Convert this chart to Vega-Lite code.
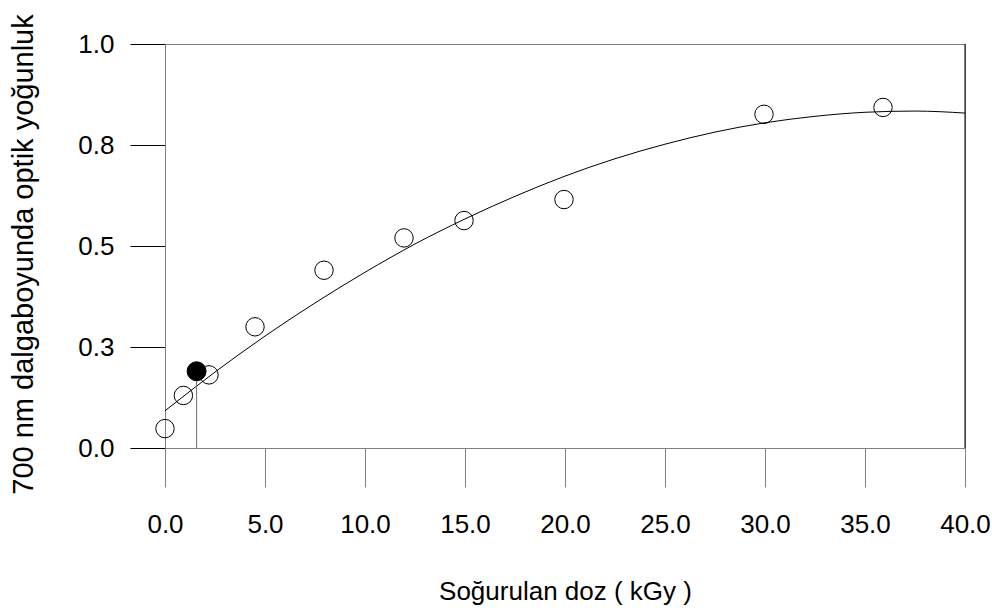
{
  "$schema": "https://vega.github.io/schema/vega-lite/v6.json",
  "width": 800,
  "height": 404,
  "autosize": {"type": "none"},
  "padding": {"left": 165, "top": 44, "right": 27, "bottom": 164},
  "background": "white",
  "config": {
    "view": {"stroke": "#808080", "strokeWidth": 1},
    "font": "Liberation Sans"
  },
  "datasets": {
    "points": [
      {"dose": 0, "od": 0.048, "kind": "open"},
      {"dose": 0.92, "od": 0.13, "kind": "open"},
      {"dose": 2.2, "od": 0.181, "kind": "open"},
      {"dose": 4.5, "od": 0.3, "kind": "open"},
      {"dose": 7.95, "od": 0.44, "kind": "open"},
      {"dose": 11.95, "od": 0.52, "kind": "open"},
      {"dose": 14.95, "od": 0.563, "kind": "open"},
      {"dose": 19.95, "od": 0.615, "kind": "open"},
      {"dose": 29.95, "od": 0.826, "kind": "open"},
      {"dose": 35.9, "od": 0.843, "kind": "open"},
      {"dose": 1.58, "od": 0.19, "kind": "filled"}
    ],
    "curve": [
      {"dose": 0, "od": 0.092},
      {"dose": 2.5, "od": 0.188},
      {"dose": 5, "od": 0.277},
      {"dose": 7.5, "od": 0.359},
      {"dose": 10, "od": 0.435},
      {"dose": 12.5, "od": 0.505},
      {"dose": 15, "od": 0.567},
      {"dose": 17.5, "od": 0.623},
      {"dose": 20, "od": 0.673},
      {"dose": 22.5, "od": 0.716},
      {"dose": 25, "od": 0.752},
      {"dose": 27.5, "od": 0.782},
      {"dose": 30, "od": 0.805},
      {"dose": 32.5, "od": 0.821},
      {"dose": 35, "od": 0.831},
      {"dose": 37.5, "od": 0.834},
      {"dose": 40, "od": 0.829}
    ],
    "marker": [
      {"dose": 1.58, "od0": 0, "od1": 0.19}
    ],
    "frame": [
      {"dose": 40, "od0": 0, "od1": 1}
    ]
  },
  "layer": [
    {
      "data": {"name": "curve"},
      "mark": {"type": "line", "color": "black", "strokeWidth": 1, "interpolate": "monotone"},
      "encoding": {
        "x": {
          "field": "dose",
          "type": "quantitative",
          "scale": {"domain": [0, 40], "nice": false, "zero": false},
          "axis": {
            "values": [0, 5, 10, 15, 20, 25, 30, 35, 40],
            "format": ".1f",
            "grid": false,
            "domainColor": "#808080",
            "domainWidth": 1,
            "tickColor": "#808080",
            "tickWidth": 1,
            "tickSize": 39,
            "labelPadding": 24,
            "labelFont": "Liberation Sans",
            "labelFontSize": 26,
            "labelColor": "black",
            "labelFlush": false,
            "labelOverlap": false,
            "title": "Soğurulan doz ( kGy )",
            "titleFont": "Liberation Sans",
            "titleFontSize": 26,
            "titleFontWeight": "normal",
            "titleColor": "black",
            "titleX": 400,
            "titleY": 151,
            "titleAlign": "center",
            "titleBaseline": "alphabetic"
          }
        },
        "y": {
          "field": "od",
          "type": "quantitative",
          "scale": {"domain": [0, 1], "nice": false},
          "axis": {
            "values": [0, 0.25, 0.5, 0.75, 1],
            "format": ".1f",
            "grid": false,
            "domainColor": "#808080",
            "domainWidth": 1,
            "tickColor": "black",
            "tickWidth": 1,
            "tickSize": 35,
            "labelPadding": 16,
            "labelFont": "Liberation Sans",
            "labelFontSize": 26,
            "labelColor": "black",
            "labelFlush": false,
            "labelOverlap": false,
            "title": "700 nm dalgaboyunda optik yoğunluk",
            "titleFont": "Liberation Sans",
            "titleFontSize": 29,
            "titleFontWeight": "normal",
            "titleColor": "black",
            "titleX": -133,
            "titleY": 210,
            "titleAngle": -90,
            "titleAlign": "center",
            "titleBaseline": "alphabetic"
          }
        }
      }
    },
    {
      "data": {"name": "frame"},
      "mark": {"type": "rule", "color": "black", "strokeWidth": 1},
      "encoding": {
        "x": {"field": "dose", "type": "quantitative"},
        "y": {"field": "od0", "type": "quantitative"},
        "y2": {"field": "od1"}
      }
    },
    {
      "data": {"name": "marker"},
      "mark": {"type": "rule", "color": "#707070", "strokeWidth": 1},
      "encoding": {
        "x": {"field": "dose", "type": "quantitative"},
        "y": {"field": "od0", "type": "quantitative"},
        "y2": {"field": "od1"}
      }
    },
    {
      "data": {"name": "points"},
      "transform": [{"filter": "datum.kind === 'open'"}],
      "mark": {"type": "point", "shape": "circle", "filled": false, "stroke": "black", "strokeWidth": 1, "size": 340, "opacity": 1},
      "encoding": {
        "x": {"field": "dose", "type": "quantitative"},
        "y": {"field": "od", "type": "quantitative"}
      }
    },
    {
      "data": {"name": "points"},
      "transform": [{"filter": "datum.kind === 'filled'"}],
      "mark": {"type": "point", "shape": "circle", "filled": true, "fill": "black", "stroke": "black", "strokeWidth": 1, "size": 360, "opacity": 1},
      "encoding": {
        "x": {"field": "dose", "type": "quantitative"},
        "y": {"field": "od", "type": "quantitative"}
      }
    }
  ]
}
